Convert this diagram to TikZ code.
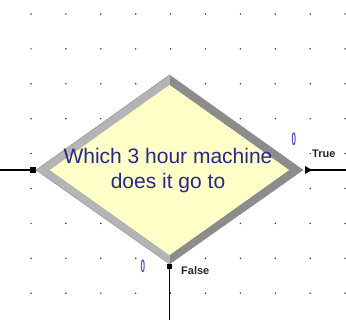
\documentclass[tikz,border=0pt]{standalone}
\usepackage{fontspec}
\setmainfont{Liberation Sans}
\definecolor{decfill}{RGB}{255,255,200}
\definecolor{bevlight}{RGB}{180,180,180}
\definecolor{bevdark}{RGB}{140,140,140}
\definecolor{qtext}{RGB}{40,40,140}
\definecolor{cnt}{RGB}{80,80,210}
\definecolor{griddot}{RGB}{60,60,60}
\tikzset{
  qline/.style={font=\fontsize{21}{25}\selectfont, text=qtext, inner sep=0pt, anchor=base},
  exitlbl/.style={font=\fontsize{11}{13}\selectfont\bfseries, text=black!85, inner sep=0pt, anchor=base west},
  counter/.style={font=\fontsize{18}{20}\selectfont\bfseries, text=cnt, inner sep=0pt, xscale=0.45},
  conn/.style={line width=1.5pt, black},
  port/.style={fill=black, draw=none}
}
\begin{document}
\begin{tikzpicture}[x=1pt,y=-1pt]
\useasboundingbox (0,0) rectangle (346,320);
\fill[white] (0,0) rectangle (346,320);
% grid dots
\foreach \i in {0,...,9} {
  \foreach \j in {0,...,8} {
    \fill[griddot] (31+34.9*\i,14+34.9*\j) circle (0.85);
  }
}
% diamond corners (outer and inner)
\coordinate (T) at (169.5,75);
\coordinate (R) at (303,170);
\coordinate (B) at (169.5,264);
\coordinate (L) at (36,170);
\coordinate (Ti) at (169.5,85);
\coordinate (Ri) at (289,170);
\coordinate (Bi) at (169.5,255);
\coordinate (Li) at (50,170);
% bevel
\fill[bevlight] (L) -- (T) -- (Ti) -- (Li) -- cycle;
\fill[bevlight] (L) -- (B) -- (Bi) -- (Li) -- cycle;
\fill[bevdark] (T) -- (R) -- (Ri) -- (Ti) -- cycle;
\fill[bevdark] (R) -- (B) -- (Bi) -- (Ri) -- cycle;
\draw[black!45, line width=0.4pt] (T) -- (R) -- (B) -- (L) -- cycle;
\fill[decfill] (Ti) -- (Ri) -- (Bi) -- (Li) -- cycle;
% text
\node[qline] (q1) at (168,163.5) {Which 3 hour machine};
\node[qline] (q2) at (168,188.5) {does it go to};
% ports
\coordinate (inend) at (0,170);
\fill[port] (30,167) rectangle (36,173);
\coordinate (inport) at (30,170);
\draw[conn] (inend) -- (inport);
\fill[port] (305,166) -- (312,170) -- (305,174) -- cycle;
\coordinate (trueport) at (305,170);
\coordinate (trueend) at (346,170);
\draw[conn] (trueport) -- (trueend);
\fill[port] (166.8,264) rectangle (172.2,269.5);
\coordinate (falseport) at (169.5,269);
\coordinate (falseend) at (169.5,320);
\draw[conn] (falseport) -- (falseend);
% labels
\node[exitlbl] (tl) at (312,157.5) {True};
\node[exitlbl] (fl) at (181,275) {False};
\node[counter] (c1) at (294,139) {0};
\node[counter] (c2) at (143,266) {0};
\end{tikzpicture}
\end{document}
